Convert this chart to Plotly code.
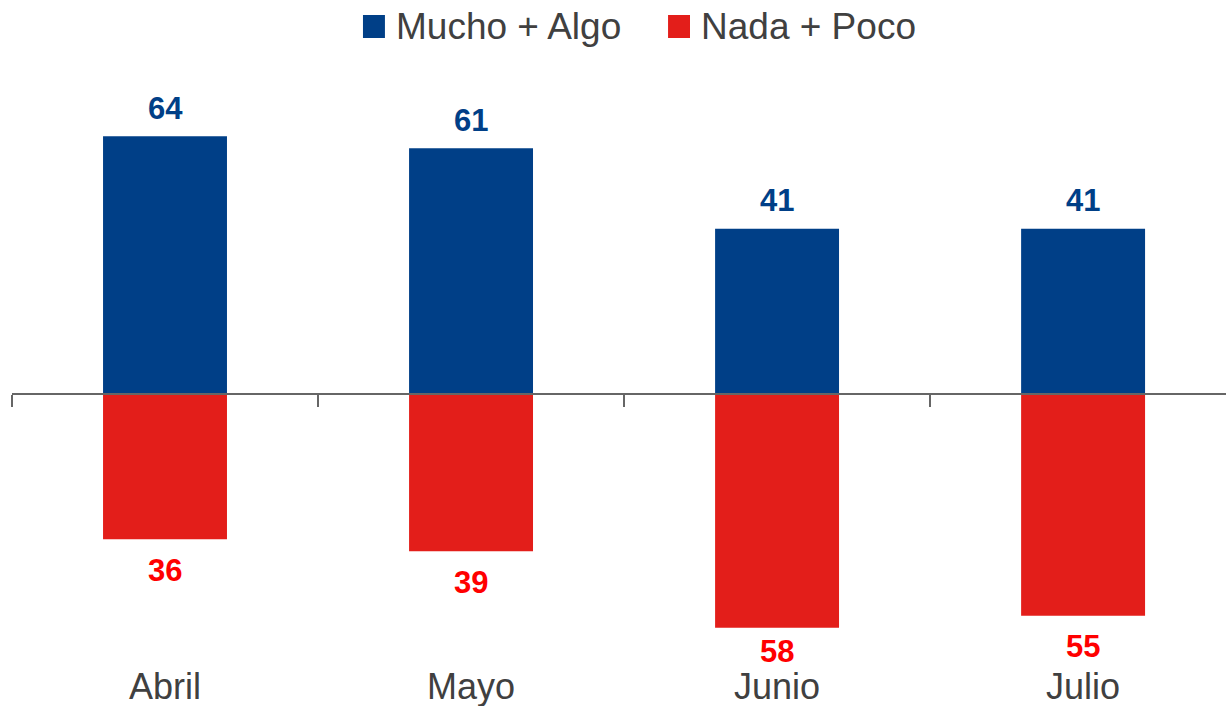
import plotly.graph_objects as go

meses = ["Abril", "Mayo", "Junio", "Julio"]
mucho_algo = [64, 61, 41, 41]
nada_poco = [36, 39, 58, 55]

azul = "#003F87"
rojo = "#E31E1A"
rojo_txt = "#FF0000"
gris = "#404040"

# eje y fijo para poder ubicar el eje x sobre el cero
y_min, y_max = -62.5, 82.9
pos_cero = (0 - y_min) / (y_max - y_min)
px_por_unidad = 586 / (y_max - y_min)

fig = go.Figure()
fig.add_trace(go.Bar(x=meses, y=mucho_algo, name="Mucho + Algo",
                     marker=dict(color=azul, line=dict(width=0)), width=0.405))
fig.add_trace(go.Bar(x=meses, y=[-v for v in nada_poco], name="Nada + Poco",
                     marker=dict(color=rojo, line=dict(width=0)), width=0.405))

# etiquetas de valores
for m, v in zip(meses, mucho_algo):
    fig.add_annotation(x=m, y=v, text="<b>%d</b>" % v, showarrow=False,
                       yanchor="middle", yshift=28,
                       font=dict(family="Arial", size=31, color=azul))
for m, v in zip(meses, nada_poco):
    # que no choque con el nombre del mes
    desplaz = min(31, 257 - v * px_por_unidad)
    fig.add_annotation(x=m, y=-v, text="<b>%d</b>" % v, showarrow=False,
                       yanchor="middle", yshift=-desplaz,
                       font=dict(family="Arial", size=31, color=rojo_txt))

# nombres de los meses abajo
for m in meses:
    fig.add_annotation(x=m, y=-0.0683, yref="paper", text=m, showarrow=False,
                       yanchor="middle",
                       font=dict(family="Arial", size=36, color=gris))

# leyenda a mano (cuadros + textos)
for nombre, color, x0 in [("Mucho + Algo", azul, 0.2891),
                          ("Nada + Poco", rojo, 0.5404)]:
    fig.add_shape(type="rect", xref="paper", yref="paper",
                  x0=x0, x1=x0 + 0.0181, y0=1.0375, y1=1.0768,
                  fillcolor=color, line=dict(width=0))
    fig.add_annotation(x=x0 + 0.0254, xref="paper", y=1.058, yref="paper",
                       text=nombre, showarrow=False, xanchor="left",
                       yanchor="middle",
                       font=dict(family="Arial", size=37, color=gris))

fig.update_layout(
    width=1226, height=706,
    margin=dict(l=12, r=0, t=60, b=60),
    barmode="relative",
    showlegend=False,
    plot_bgcolor="white", paper_bgcolor="white",
    xaxis=dict(range=[-0.5, 3.467], anchor="free", position=pos_cero,
               showline=True, linecolor="#666666", linewidth=1.5,
               ticks="outside", tickson="boundaries", ticklen=12,
               tickcolor="#666666", tickwidth=1.5,
               showticklabels=False, showgrid=False),
    yaxis=dict(range=[y_min, y_max], visible=False, showgrid=False,
               zeroline=False),
)

fig.write_html("out.html", config={"displayModeBar": False},
               post_script="document.body.style.margin='0';")
